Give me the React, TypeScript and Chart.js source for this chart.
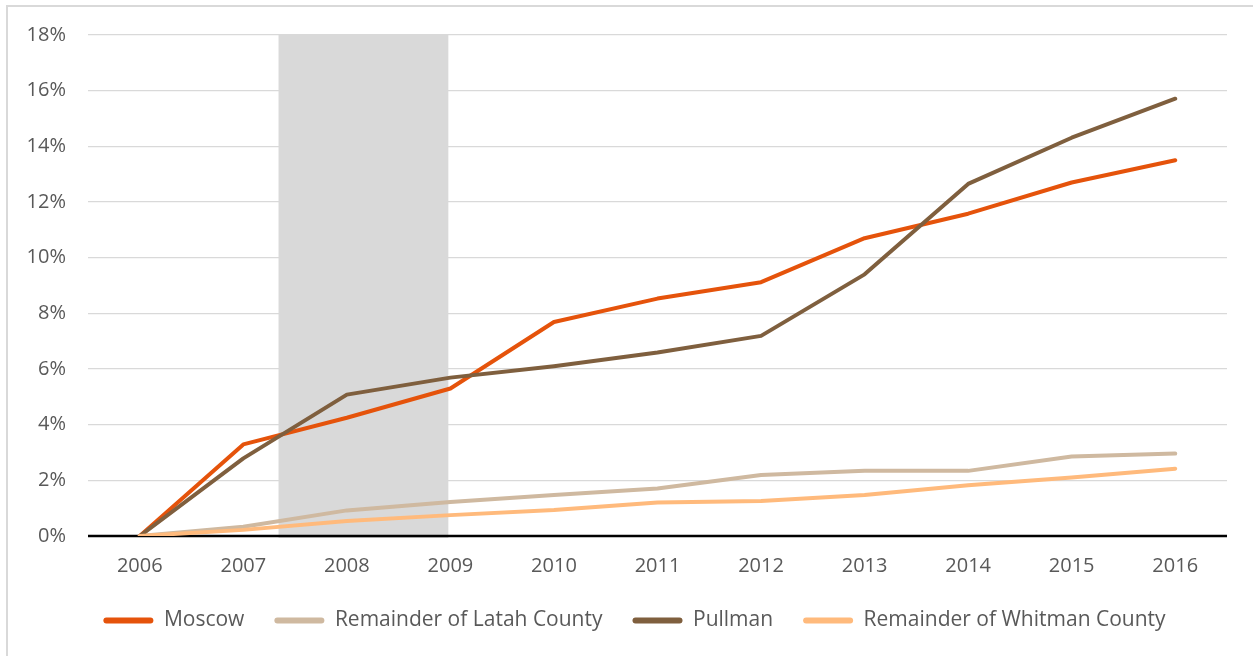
import React, { useEffect, useRef } from "react";
import { Chart, registerables } from "chart.js";

Chart.register(...registerables);

const years = ["2006", "2007", "2008", "2009", "2010", "2011", "2012", "2013", "2014", "2015", "2016"];
const moscow = [0, 3.29, 4.25, 5.3, 7.69, 8.53, 9.12, 10.7, 11.58, 12.7, 13.5];
const latah = [0, 0.33, 0.92, 1.22, 1.47, 1.71, 2.19, 2.34, 2.34, 2.86, 2.96];
const pullman = [0, 2.79, 5.08, 5.69, 6.1, 6.59, 7.19, 9.4, 12.65, 14.31, 15.71];
const whitman = [0, 0.22, 0.54, 0.75, 0.93, 1.2, 1.26, 1.47, 1.82, 2.1, 2.42];
const seriesNames = ["Moscow", "Remainder of Latah County", "Pullman", "Remainder of Whitman County"];
const seriesColors = ["#E5530B", "#CFB9A0", "#7F5F3E", "#FFBA7C"];
// recession shading, in category-index units on the x scale
const recessionStart = 1.34;
const recessionEnd = 2.98;
const yMin = 0;
const yMax = 18;
const yStep = 2;

const shadePlugin = {
  id: "recessionShade",
  afterLayout(chart: any) {
    const lg = chart.legend;
    if (lg) {
      lg.left += 21;
      lg.right += 21;
    }
  },
  beforeDatasetsDraw(chart: any) {
    const { ctx, scales } = chart;
    const x = scales.x;
    const y = scales.y;
    const x0 = x.getPixelForValue(recessionStart);
    const x1 = x.getPixelForValue(recessionEnd);
    const top = y.getPixelForValue(yMax);
    const bottom = y.getPixelForValue(yMin) + 2;
    ctx.save();
    ctx.fillStyle = "#D9D9D9";
    ctx.fillRect(x0, top, x1 - x0, bottom - top);
    const yz = Math.round(y.getPixelForValue(0));
    ctx.strokeStyle = "#000000";
    ctx.lineWidth = 2.5;
    ctx.beginPath();
    ctx.moveTo(chart.chartArea.left, yz);
    ctx.lineTo(chart.chartArea.right, yz);
    ctx.stroke();
    ctx.restore();
  },
};

export default function App() {
  const ref = useRef<HTMLCanvasElement | null>(null);

  useEffect(() => {
    const all = [moscow, latah, pullman, whitman];
    const orders = [4, 3, 2, 1];
    const chart = new Chart(ref.current as HTMLCanvasElement, {
      type: "line",
      data: {
        labels: years,
        datasets: all.map((d, i) => ({
          label: seriesNames[i],
          data: d,
          borderColor: seriesColors[i],
          backgroundColor: seriesColors[i],
          borderWidth: 4,
          pointRadius: 0,
          pointHoverRadius: 0,
          tension: 0,
          borderCapStyle: "round",
          borderJoinStyle: "round",
          fill: false,
          order: orders[i],
        })),
      },
      options: {
        animation: false,
        responsive: false,
        maintainAspectRatio: false,
        events: [],
        layout: { padding: { left: 0, right: 26, top: 35, bottom: 15 } },
        plugins: {
          tooltip: { enabled: false },
          legend: {
            position: "bottom",
            labels: {
              font: { family: "'Open Sans'", size: 21 },
              color: "#595959",
              boxWidth: 50,
              boxHeight: 6,
              padding: 30,
              useBorderRadius: true,
              borderRadius: 3,
              generateLabels: () =>
                seriesNames.map((n, i) => ({
                  text: n,
                  fillStyle: seriesColors[i],
                  strokeStyle: seriesColors[i],
                  lineWidth: 0,
                  hidden: false,
                  datasetIndex: i,
                  fontColor: "#595959",
                  borderRadius: 3,
                })),
            },
          },
        },
        scales: {
          x: {
            offset: true,
            grid: { display: false, drawTicks: false },
            border: { display: false },
            ticks: {
              color: "#595959",
              font: { family: "'Open Sans'", size: 20 },
              padding: 18,
              maxRotation: 0,
            },
            afterFit: (s: any) => {
              s.height = 44;
            },
          },
          y: {
            min: yMin,
            max: yMax,
            grid: { color: "#D9D9D9", lineWidth: 1.3, drawTicks: false },
            border: { display: false },
            ticks: {
              stepSize: yStep,
              color: "#595959",
              font: { family: "'Open Sans'", size: 20 },
              padding: 22,
              callback: (v: any) => v + "%",
            },
            afterFit: (s: any) => {
              s.width = 88;
            },
          },
        },
      },
      plugins: [shadePlugin],
    } as any);
    return () => chart.destroy();
  }, []);

  return (
    <>
      <div
        style={{
          position: "fixed",
          left: 6,
          top: 5,
          width: 1400,
          height: 800,
          borderLeft: "2px solid #D9D9D9",
          borderTop: "2px solid #D9D9D9",
          boxSizing: "border-box",
        }}
      />
      <div style={{ position: "fixed", left: 0, top: 0, width: 1253, height: 656 }}>
        <canvas ref={ref} width={1253} height={656} style={{ width: 1253, height: 656 }} />
      </div>
    </>
  );
}
